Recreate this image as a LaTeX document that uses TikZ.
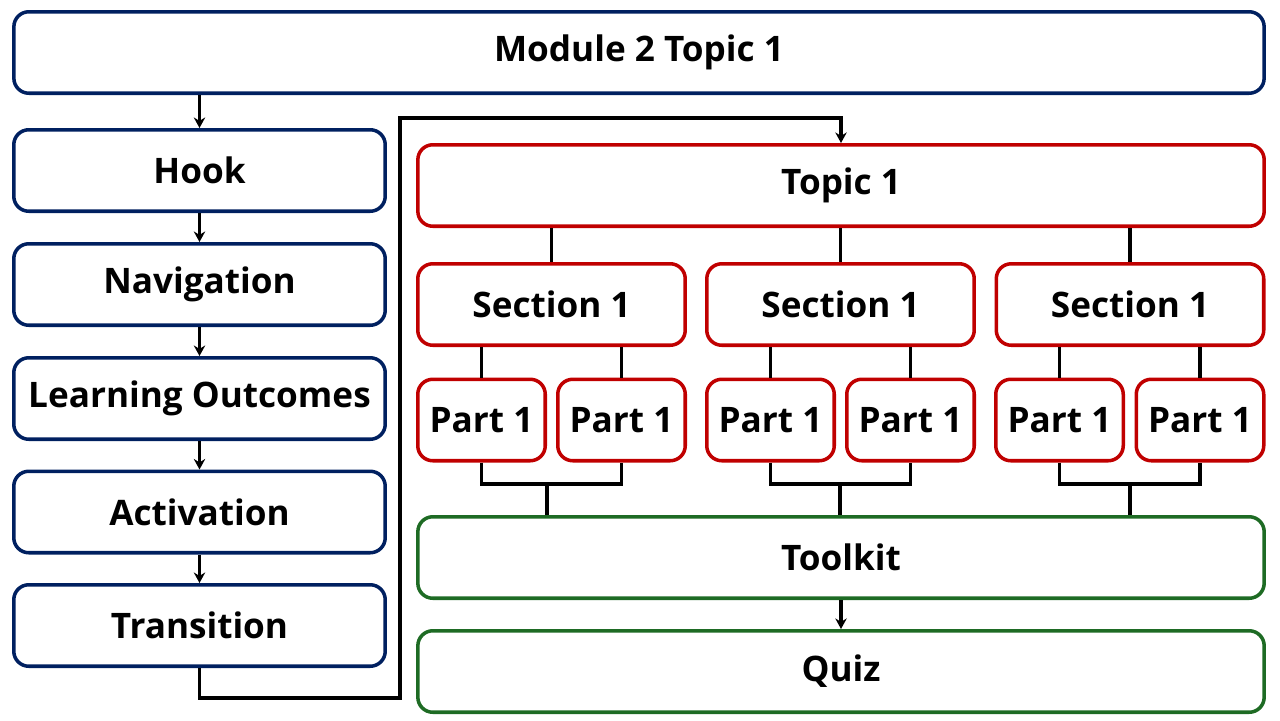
\documentclass[tikz,border=0pt]{standalone}
\usepackage{fontspec}
\setsansfont{Open Sans}
\usetikzlibrary{arrows.meta,positioning}
\definecolor{navy}{HTML}{002060}
\definecolor{darkred}{HTML}{C00000}
\definecolor{darkgreen}{HTML}{1E6B24}
\tikzset{
  box/.style={draw,line width=2pt,rounded corners=0.3cm,fill=white,
    font=\sffamily\bfseries\fontsize{20}{22}\selectfont,inner sep=0pt,minimum height=1.63cm},
  navybox/.style={box,draw=navy},
  redbox/.style={box,draw=darkred},
  greenbox/.style={box,draw=darkgreen},
  link/.style={line width=1.8pt,black},
  arr/.style={link,->,>={Stealth[length=6pt,width=6.5pt]}},
}
\begin{document}
\begin{tikzpicture}[x=0.02cm,y=-0.02cm]
    \useasboundingbox (0,0) rectangle (1280,720);
    % top banner
    \node[navybox,minimum width=25.01cm] (mod) at (639,52.5) {Module 2 Topic 1};
    % left column
    \node[navybox,minimum width=7.43cm] (hook) at (199.5,170.5) {Hook};
    \node[navybox,minimum width=7.43cm] (nav) at (199.5,284.5) {Navigation};
    \node[navybox,minimum width=7.43cm] (lo) at (199.5,398.5) {Learning Outcomes};
    \node[navybox,minimum width=7.43cm] (act) at (199.5,512) {Activation};
    \node[navybox,minimum width=7.43cm] (trans) at (199.5,625.5) {Transition};
    % topic tree
    \node[redbox,minimum width=16.93cm] (topic) at (841,185.5) {Topic 1};
    \node[redbox,minimum width=5.35cm] (sec1) at (551.5,304.5) {Section 1};
    \node[redbox,minimum width=5.35cm] (sec2) at (840.5,304.5) {Section 1};
    \node[redbox,minimum width=5.35cm] (sec3) at (1130,304.5) {Section 1};
    \node[redbox,minimum width=2.55cm] (p11) at (481.5,420) {Part 1};
    \node[redbox,minimum width=2.55cm] (p12) at (621.5,420) {Part 1};
    \node[redbox,minimum width=2.55cm] (p21) at (770.5,420) {Part 1};
    \node[redbox,minimum width=2.55cm] (p22) at (910.5,420) {Part 1};
    \node[redbox,minimum width=2.55cm] (p31) at (1059.5,420) {Part 1};
    \node[redbox,minimum width=2.55cm] (p32) at (1200,420) {Part 1};
    \node[greenbox,minimum width=16.93cm] (tk) at (841,557.5) {Toolkit};
    \node[greenbox,minimum width=16.93cm] (quiz) at (841,671.5) {Quiz};
    % routing points
    \coordinate (lpA) at (400,698);
    \coordinate (lpB) at (400,118);
    \coordinate (j1) at (547,484);
    \coordinate (j2) at (840,484);
    \coordinate (j3) at (1130,484);
    % left chain
    \draw[arr] (hook.north |- mod.south) -- (hook.north);
    \draw[arr] (hook) -- (nav);
    \draw[arr] (nav) -- (lo);
    \draw[arr] (lo) -- (act);
    \draw[arr] (act) -- (trans);
    \draw[arr] (trans.south) |- (lpA) -- (lpB) -| (topic.north);
    % tree
    \draw[link] (topic.south -| sec1) -- (sec1.north);
    \draw[link] (topic.south -| sec2) -- (sec2.north);
    \draw[link] (topic.south -| sec3) -- (sec3.north);
    \draw[link] (sec1.south -| p11) -- (p11.north);
    \draw[link] (sec1.south -| p12) -- (p12.north);
    \draw[link] (sec2.south -| p21) -- (p21.north);
    \draw[link] (sec2.south -| p22) -- (p22.north);
    \draw[link] (sec3.south -| p31) -- (p31.north);
    \draw[link] (sec3.south -| p32) -- (p32.north);
    \draw[link] (p11.south) |- (j1) -| (p12.south);
    \draw[link] (p21.south) |- (j2) -| (p22.south);
    \draw[link] (p31.south) |- (j3) -| (p32.south);
    \draw[link] (j1) -- (j1 |- tk.north);
    \draw[link] (j2) -- (j2 |- tk.north);
    \draw[link] (j3) -- (j3 |- tk.north);
    \draw[arr] (tk) -- (quiz);
\end{tikzpicture}
\end{document}
